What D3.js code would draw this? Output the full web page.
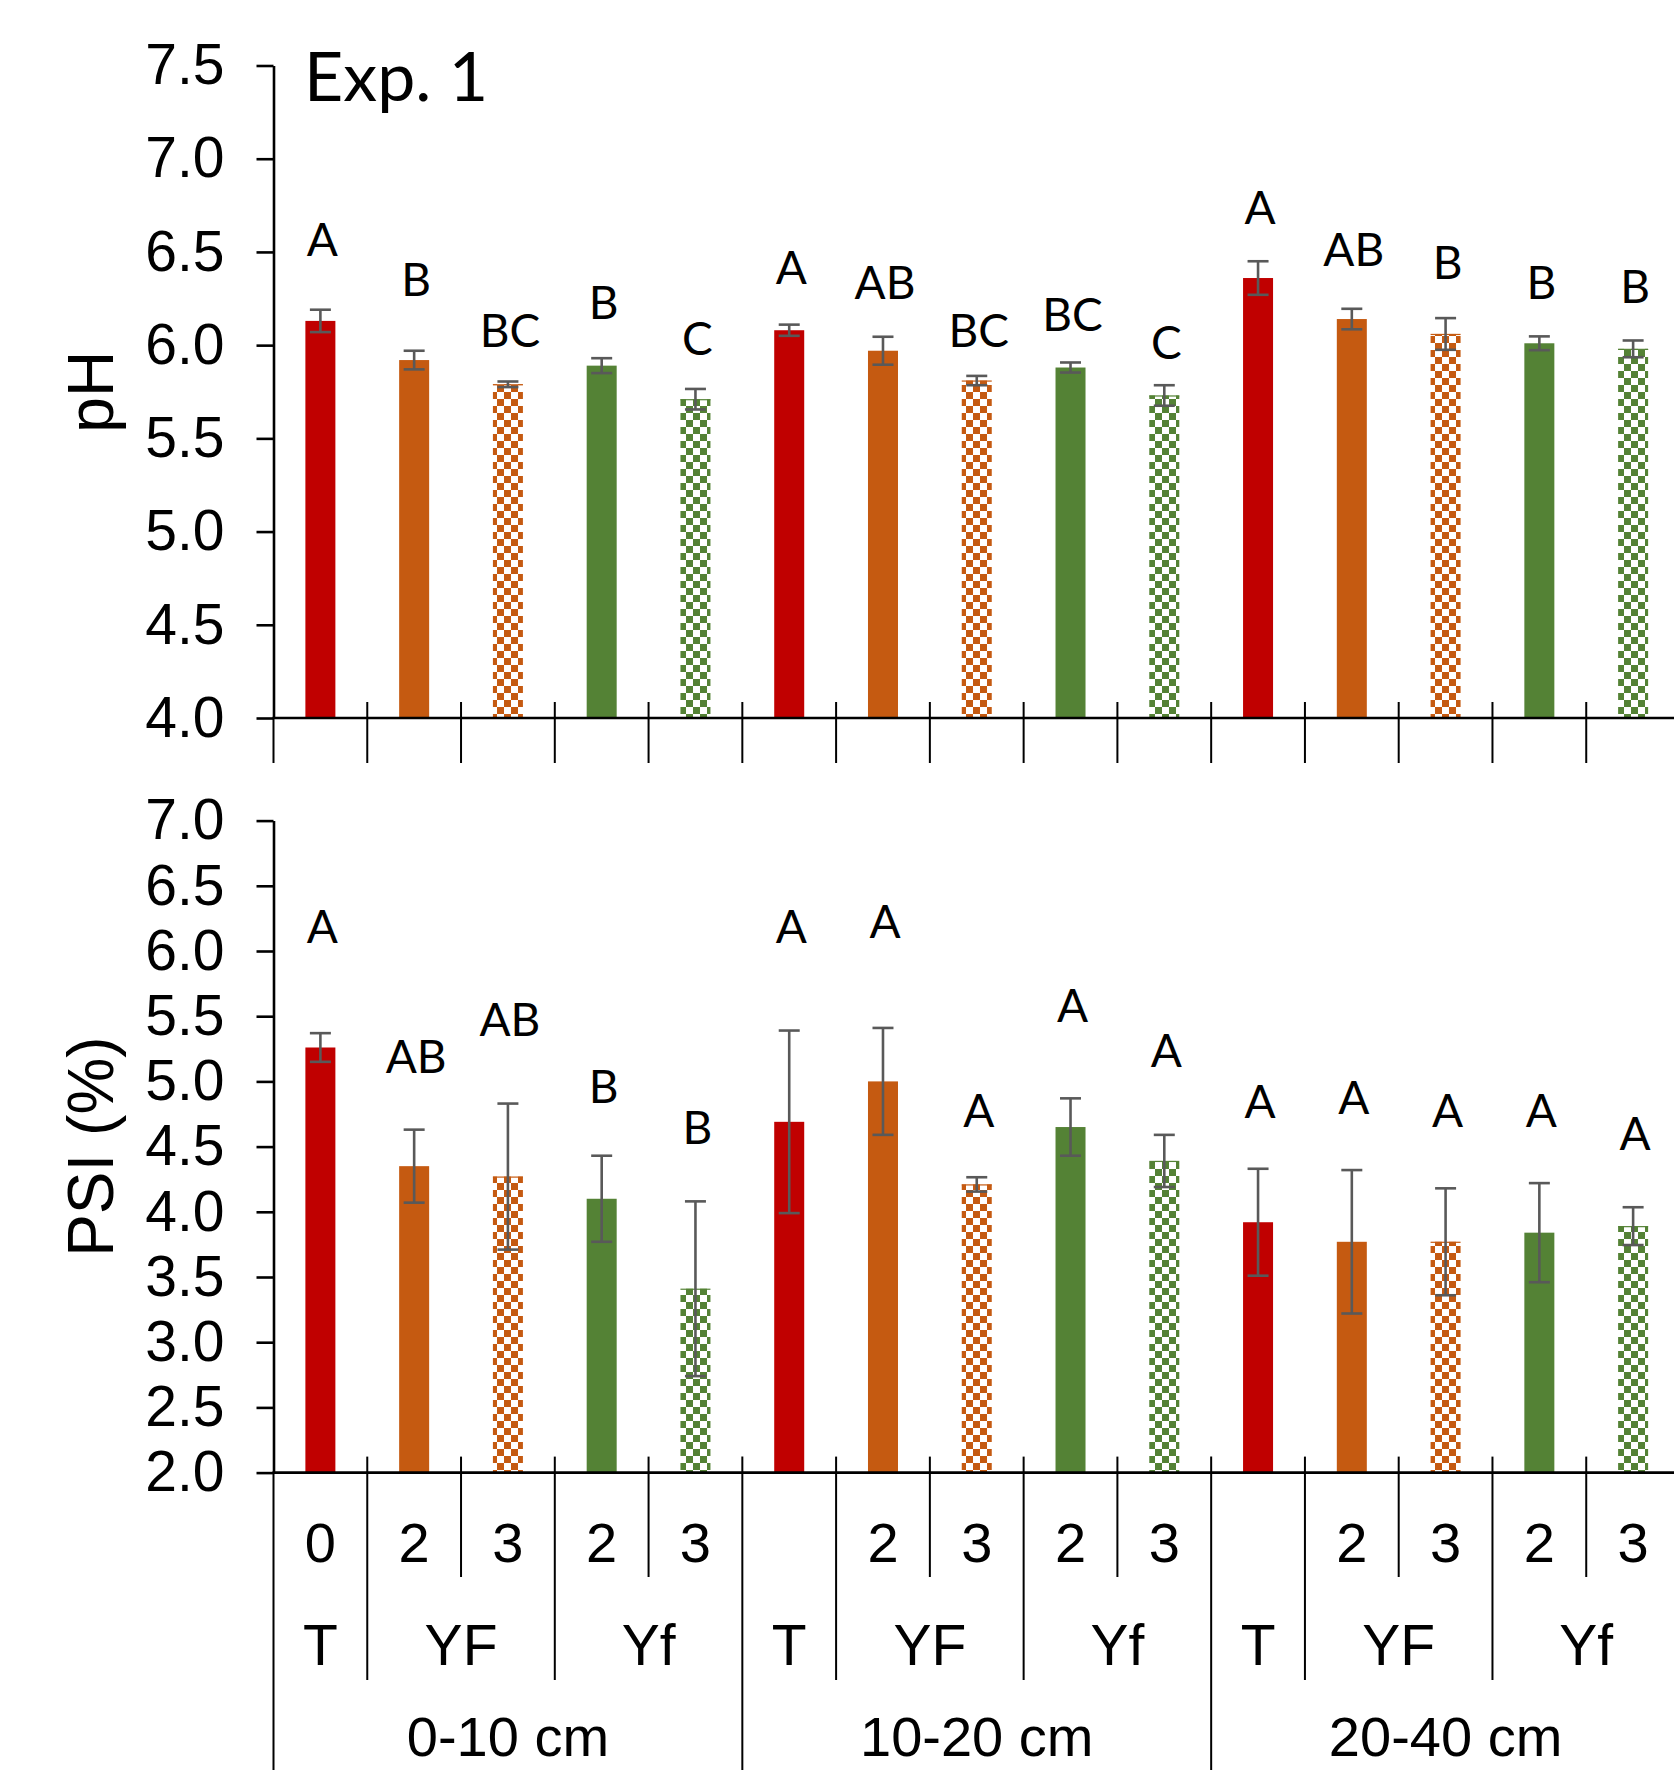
<!DOCTYPE html>
<html>
<head>
<meta charset="utf-8">
<script src="https://cdn.jsdelivr.net/npm/d3@7"></script>
<style>
  html, body { margin: 0; padding: 0; background: #fff; }
  svg { display: block; }
</style>
</head>
<body>
<svg id="chart" width="1674" height="1770"></svg>
<script>
// ---- categories (three-level axis: year / treatment / depth) ----
const depthGroups = ["0-10 cm", "10-20 cm", "20-40 cm"];
const treatmentLabels = ["T", "YF", "YF", "Yf", "Yf",
                         "T", "YF", "YF", "Yf", "Yf",
                         "T", "YF", "YF", "Yf", "Yf"];
const yearLabels = ["0", "2", "3", "2", "3",
                    "",  "2", "3", "2", "3",
                    "",  "2", "3", "2", "3"];

// ---- pH (mean, standard error, significance letters) ----
const phMean = [6.13, 5.92, 5.79, 5.89, 5.71,
                6.08, 5.97, 5.81, 5.88, 5.73,
                6.36, 6.14, 6.06, 6.01, 5.98];
const phSE = [0.06, 0.05, 0.015, 0.04, 0.055,
              0.03, 0.075, 0.025, 0.027, 0.055,
              0.09, 0.055, 0.085, 0.037, 0.045];
const phLetters = ["A", "B", "BC", "B", "C",
                   "A", "AB", "BC", "BC", "C",
                   "A", "AB", "B", "B", "B"];
// letter baselines, in pH units
const phLetterAt = [6.48, 6.264, 5.99, 6.14, 5.947,
                    6.327, 6.248, 5.99, 6.076, 5.928,
                    6.652, 6.423, 6.353, 6.248, 6.225];
const phTicks = [4.0, 4.5, 5.0, 5.5, 6.0, 6.5, 7.0, 7.5];

// ---- PSI (%) ----
const psiMean = [5.26, 4.35, 4.27, 4.10, 3.41,
                 4.69, 5.00, 4.21, 4.65, 4.39,
                 3.92, 3.77, 3.77, 3.84, 3.89];
const psiSE = [0.11, 0.28, 0.56, 0.33, 0.67,
               0.70, 0.41, 0.055, 0.22, 0.20,
               0.41, 0.55, 0.41, 0.38, 0.145];
const psiLetters = ["A", "AB", "AB", "B", "B",
                    "A", "A", "A", "A", "A",
                    "A", "A", "A", "A", "A"];
// letter baselines, in PSI units
const psiLetterAt = [6.061, 5.068, 5.35, 4.836, 4.52,
                     6.061, 6.097, 4.653, 5.455, 5.11,
                     4.723, 4.75, 4.653, 4.653, 4.474];
const psiTicks = [2.0, 2.5, 3.0, 3.5, 4.0, 4.5, 5.0, 5.5, 6.0, 6.5, 7.0];

// ---- layout ----
const W = 1674, H = 1770;
const x0 = 273.5, x1 = 1680;
const barW = 30;
const tickFont = "'Liberation Sans', Arial, sans-serif";
const letterFont = "Lato, 'Open Sans', sans-serif";
const colors = { "T": "#C00000", "YF": "#C55A11", "Yf": "#548235" };
const errColor = "#595959";

const svg = d3.select("#chart");

// checkerboard fills for the year-3 bars
const defs = svg.append("defs");
Object.entries(colors).forEach(([k, c]) => {
  const p = defs.append("pattern")
    .attr("id", "chk-" + k)
    .attr("patternUnits", "userSpaceOnUse")
    .attr("width", 14).attr("height", 14);
  p.append("rect").attr("width", 14).attr("height", 14).attr("fill", "#fff");
  p.append("rect").attr("x", 0).attr("y", 0).attr("width", 7).attr("height", 7).attr("fill", c);
  p.append("rect").attr("x", 7).attr("y", 7).attr("width", 7).attr("height", 7).attr("fill", c);
});

const x = d3.scaleBand().domain(d3.range(yearLabels.length)).range([x0, x1]);
const bw = x.bandwidth();
const cx = i => x(i) + bw / 2;

function fillFor(i) {
  const t = treatmentLabels[i];
  return yearLabels[i] === "3" ? `url(#chk-${t})` : colors[t];
}

function drawPanel(y, means, ses, letters, letterAt, ticks) {
  const g = svg.append("g");
  const base = y(y.domain()[0]);
  const idx = d3.range(means.length);

  // bars
  g.selectAll("rect.bar").data(idx).join("rect")
    .attr("class", "bar")
    .attr("x", i => cx(i) - barW / 2)
    .attr("y", i => y(means[i]))
    .attr("width", barW)
    .attr("height", i => base - y(means[i]))
    .attr("fill", i => fillFor(i));

  // thin coloured top edge on checkered bars
  g.selectAll("line.edge").data(idx.filter(i => yearLabels[i] === "3")).join("line")
    .attr("class", "edge")
    .attr("x1", i => cx(i) - barW / 2).attr("x2", i => cx(i) + barW / 2)
    .attr("y1", i => y(means[i]) + 0.5).attr("y2", i => y(means[i]) + 0.5)
    .attr("stroke", i => colors[treatmentLabels[i]]).attr("stroke-width", 1.2);

  // error bars
  const eb = g.selectAll("g.err").data(idx).join("g").attr("class", "err")
    .attr("stroke", errColor).attr("stroke-width", 2.6).attr("fill", "none");
  eb.append("line")
    .attr("x1", i => cx(i)).attr("x2", i => cx(i))
    .attr("y1", i => y(means[i] + ses[i])).attr("y2", i => y(means[i] - ses[i]));
  eb.append("line")
    .attr("x1", i => cx(i) - 10.5).attr("x2", i => cx(i) + 10.5)
    .attr("y1", i => y(means[i] + ses[i])).attr("y2", i => y(means[i] + ses[i]));
  eb.append("line")
    .attr("x1", i => cx(i) - 10.5).attr("x2", i => cx(i) + 10.5)
    .attr("y1", i => y(means[i] - ses[i])).attr("y2", i => y(means[i] - ses[i]));

  // significance letters
  g.selectAll("text.letter").data(idx).join("text")
    .attr("class", "letter")
    .attr("x", i => cx(i) + 2)
    .attr("y", i => y(letterAt[i]))
    .attr("text-anchor", "middle")
    .attr("font-family", letterFont)
    .attr("font-size", 46)
    .attr("fill", "#000")
    .text(i => letters[i]);

  // y axis
  const ax = g.append("g")
    .attr("transform", `translate(${x0},0)`)
    .call(d3.axisLeft(y).tickValues(ticks).tickFormat(d3.format(".1f"))
      .tickSize(17).tickSizeOuter(0).tickPadding(32));
  ax.select(".domain").attr("stroke", "#000").attr("stroke-width", 2.6);
  ax.selectAll(".tick line").attr("stroke", "#000").attr("stroke-width", 2.6);
  ax.selectAll(".tick text")
    .attr("font-family", tickFont).attr("font-size", 57).attr("fill", "#000");

  // category axis line
  g.append("line")
    .attr("x1", x0 - 1).attr("x2", W + 10)
    .attr("y1", base).attr("y2", base)
    .attr("stroke", "#000").attr("stroke-width", 2.6);

  return { g, base };
}

// ---- upper panel: pH ----
const yPh = d3.scaleLinear().domain([4, 7.5]).range([718, 65.5]);
const upper = drawPanel(yPh, phMean, phSE, phLetters, phLetterAt, phTicks);

// category dividers under the pH panel (labels are shared with the lower panel)
upper.g.selectAll("line.div").data(d3.range(0, 15)).join("line")
  .attr("class", "div")
  .attr("x1", i => x(i)).attr("x2", i => x(i))
  .attr("y1", i => i === 0 ? upper.base : upper.base - 16)
  .attr("y2", upper.base + 45)
  .attr("stroke", "#000").attr("stroke-width", 2);

upper.g.append("text")
  .attr("x", 304).attr("y", 101)
  .attr("font-family", letterFont).attr("font-size", 68).attr("fill", "#000")
  .text("Exp. 1");

svg.append("text")
  .attr("transform", `translate(113,${(yPh(4) + yPh(7.5)) / 2}) rotate(-90)`)
  .attr("text-anchor", "middle")
  .attr("font-family", tickFont).attr("font-size", 64).attr("fill", "#000")
  .text("pH");

// ---- lower panel: PSI ----
const yPsi = d3.scaleLinear().domain([2, 7]).range([1472.6, 820.6]);
const lower = drawPanel(yPsi, psiMean, psiSE, psiLetters, psiLetterAt, psiTicks);

svg.append("text")
  .attr("transform", `translate(113,${(yPsi(2) + yPsi(7)) / 2}) rotate(-90)`)
  .attr("text-anchor", "middle")
  .attr("font-family", tickFont).attr("font-size", 64).attr("fill", "#000")
  .text("PSI (%)");

// multi-level category axis
const levelBottom = [1577, 1680, H + 5];
function dividerLevel(i) {
  if (i % 5 === 0) return 2;                 // depth boundary
  if (i % 5 === 1 || i % 5 === 3) return 1;  // treatment boundary
  return 0;                                  // year boundary
}
lower.g.selectAll("line.div").data(d3.range(0, 15)).join("line")
  .attr("class", "div")
  .attr("x1", i => x(i)).attr("x2", i => x(i))
  .attr("y1", i => i === 0 ? lower.base : lower.base - 16)
  .attr("y2", i => levelBottom[dividerLevel(i)])
  .attr("stroke", "#000").attr("stroke-width", 2);

// year row
lower.g.selectAll("text.year").data(d3.range(15)).join("text")
  .attr("class", "year")
  .attr("x", i => cx(i)).attr("y", 1562)
  .attr("text-anchor", "middle")
  .attr("font-family", tickFont).attr("font-size", 56).attr("fill", "#000")
  .text(i => yearLabels[i]);

// treatment row: consecutive equal labels within a depth form one group
const tGroups = [];
treatmentLabels.forEach((t, i) => {
  const last = tGroups[tGroups.length - 1];
  if (last && last.name === t && i % 5 !== 0) last.to = i;
  else tGroups.push({ name: t, from: i, to: i });
});
lower.g.selectAll("text.treat").data(tGroups).join("text")
  .attr("class", "treat")
  .attr("x", d => (x(d.from) + x(d.to) + bw) / 2).attr("y", 1665)
  .attr("text-anchor", "middle")
  .attr("font-family", tickFont).attr("font-size", 57).attr("fill", "#000")
  .text(d => d.name);

// depth row
lower.g.selectAll("text.depth").data(depthGroups).join("text")
  .attr("class", "depth")
  .attr("x", (d, k) => (x(k * 5) + x(k * 5 + 4) + bw) / 2).attr("y", 1756)
  .attr("text-anchor", "middle")
  .attr("font-family", tickFont).attr("font-size", 56).attr("fill", "#000")
  .text(d => d);
</script>
</body>
</html>
